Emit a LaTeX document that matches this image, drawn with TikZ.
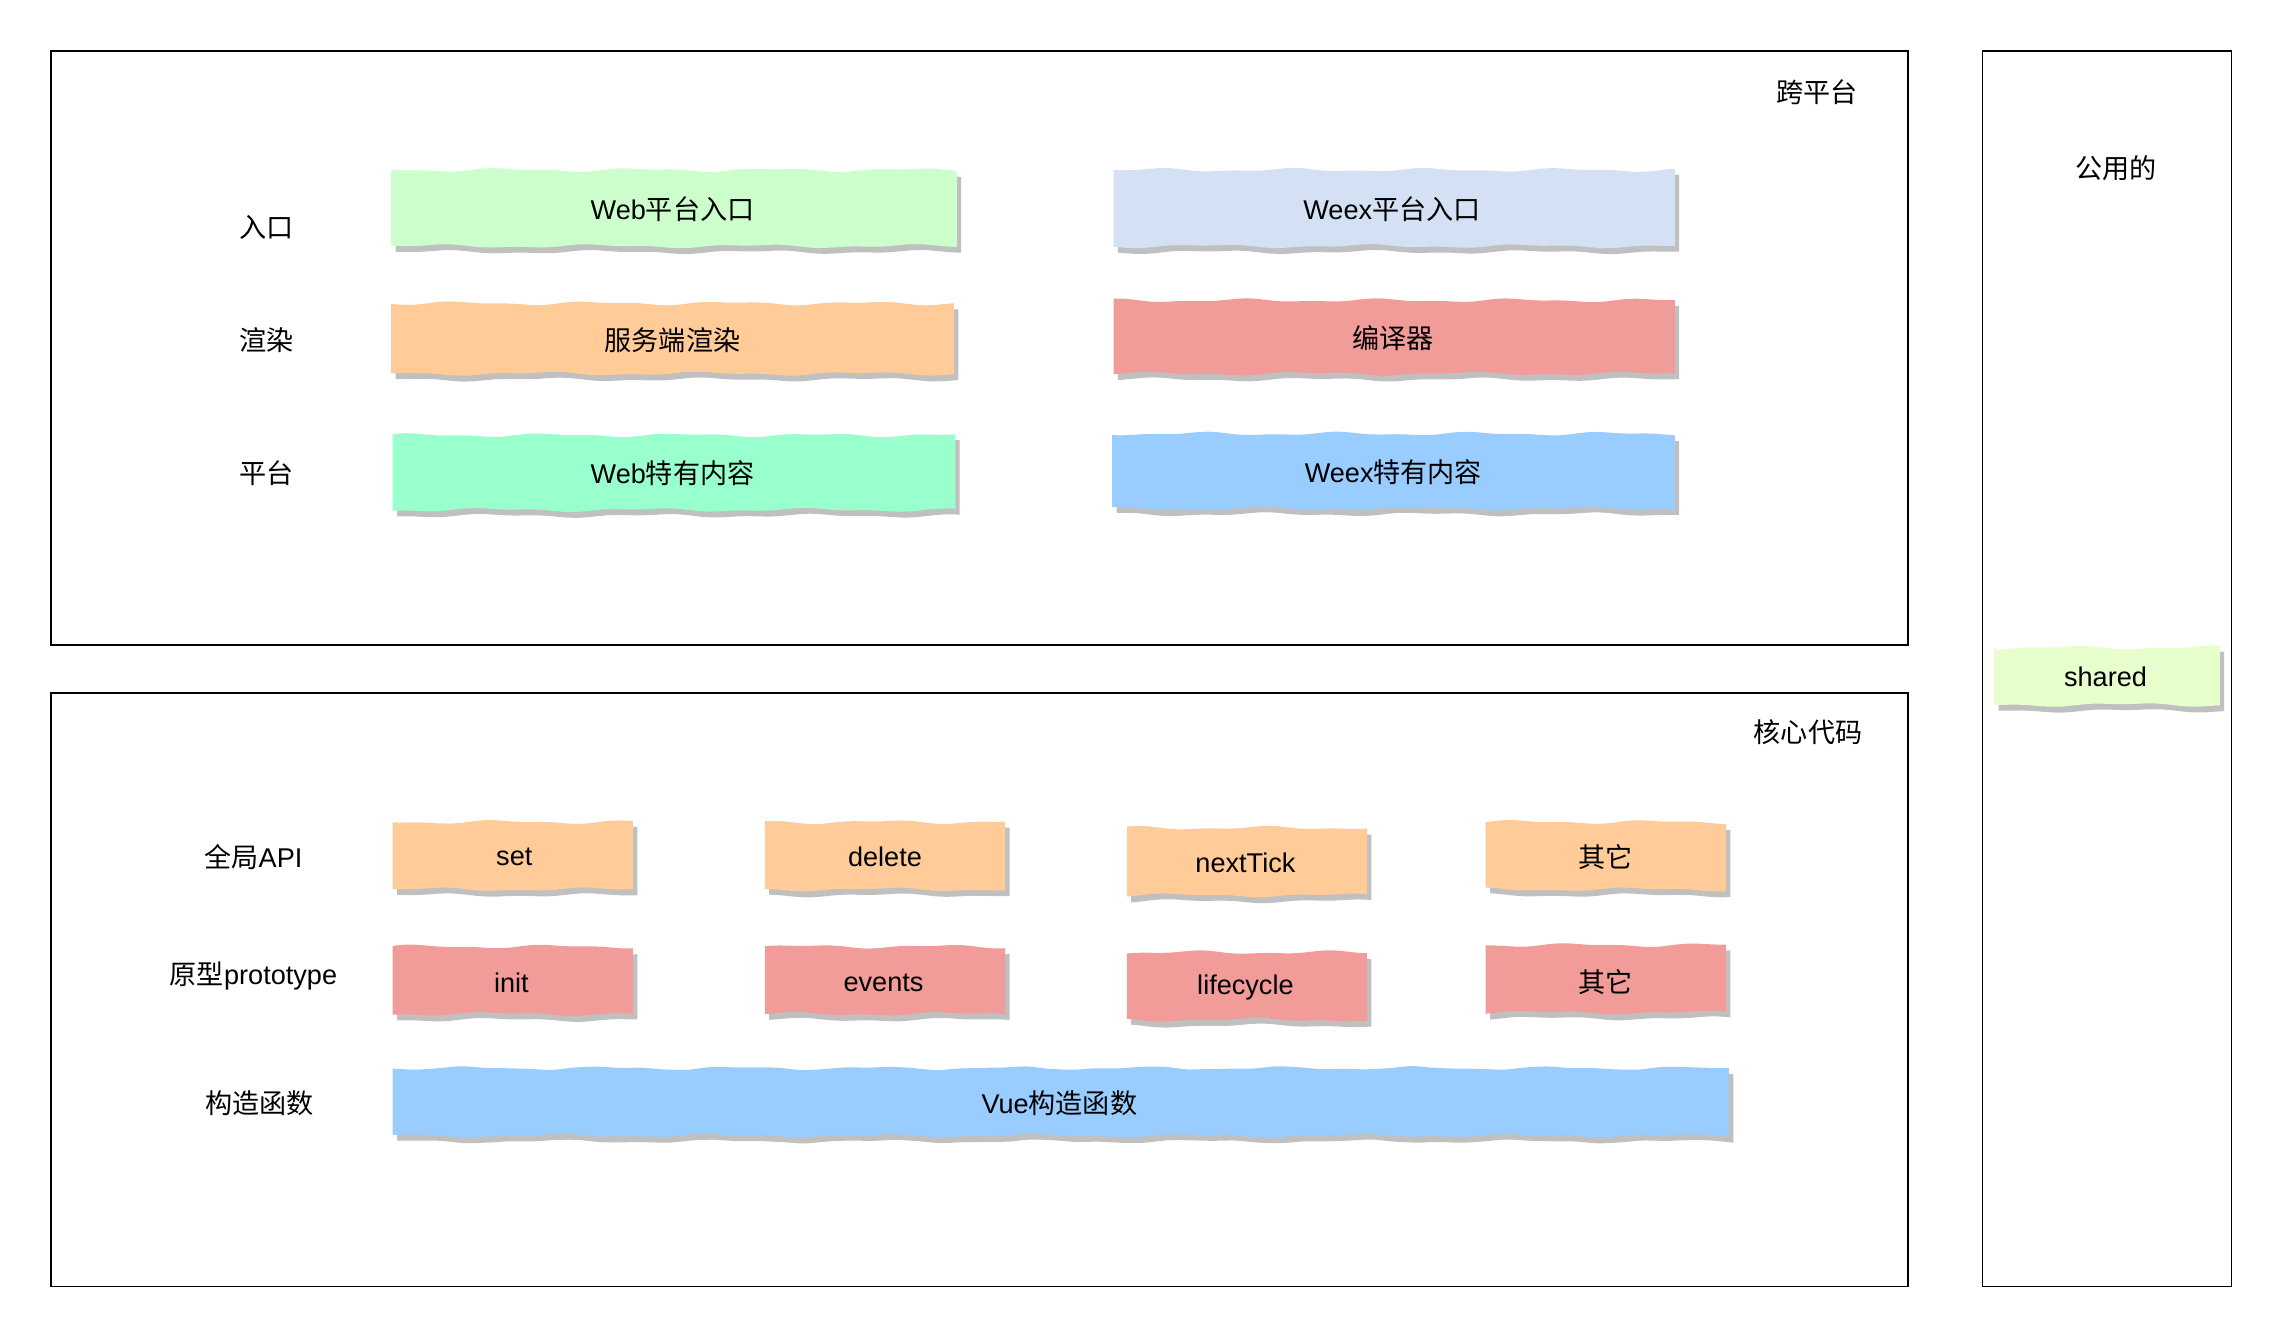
\documentclass[tikz,border=0pt]{standalone}
\usepackage{fontspec}
\setmainfont{Liberation Sans}
\newfontfamily\cjk{Noto Sans CJK SC}
\definecolor{cGreen}{HTML}{CCFFCC}
\definecolor{cLBlue}{HTML}{D4E1F5}
\definecolor{cOrange}{HTML}{FFCC99}
\definecolor{cRed}{HTML}{F19C99}
\definecolor{cMint}{HTML}{99FFCC}
\definecolor{cBlue}{HTML}{99CCFF}
\definecolor{cLime}{HTML}{E6FFCC}
\definecolor{cShadow}{HTML}{C0C0C0}
\newcommand\fs{\fontsize{18.5}{22}\selectfont}
\tikzset{
  frame/.style={draw=black, line width=1.1pt},
  lbl/.style={font=\fs, text=black, inner sep=0pt},
}
% wavy sticky-note outline: x1 y1 x2 y2 phase
\newcommand\wavepath[5]{(#1,#2) -- plot[smooth,domain=#1:#3,samples=60,variable=\t] (\t,{#2+0.9*sin(3.9*\t+#5)+0.5*sin(8.3*\t+2*#5)}) -- (#3,#4) -- plot[smooth,domain=#3:#1,samples=60,variable=\t] (\t,{#4+0.9*sin(3.3*\t+#5)+0.5*sin(7.9*\t+#5)}) -- cycle}
% name x1 y1 x2 y2 colour phase
\newcommand\sticky[7]{%
  \begin{scope}[shift={(3,4)}]\fill[cShadow] \wavepath{#2}{#3}{#4}{#5}{#7};\end{scope}
  \fill[#6] \wavepath{#2}{#3}{#4}{#5}{#7};
}
\begin{document}
\begin{tikzpicture}[x=1pt,y=-1pt]
\useasboundingbox (0,0) rectangle (1567,913);
% frames
\draw[frame] (35,35) rectangle (1302,440);
\draw[frame] (35,473) rectangle (1302,878);
\draw[frame] (1353,35) rectangle (1523,878);
\node[lbl] (tCross) at (1240,63) {\cjk 跨平台};
\node[lbl] (tCore) at (1234,500) {\cjk 核心代码};
\node[lbl] (tShared) at (1444,115) {\cjk 公用的};
% row labels top
\node[lbl] (rEntry) at (182,155) {\cjk 入口};
\node[lbl] (rRender) at (182,232) {\cjk 渲染};
\node[lbl] (rPlat) at (182,323) {\cjk 平台};
% row labels bottom
\node[lbl] (rApi) at (173,585) {{\cjk 全局}API};
\node[lbl] (rProto) at (173,666) {{\cjk 原型}prototype};
\node[lbl] (rCtor) at (177,753) {\cjk 构造函数};
% sticky notes top
\sticky{webEntry}{267}{116}{653}{168}{cGreen}{10}
\node[lbl] (webEntry) at (459,143) {Web{\cjk 平台入口}};
\sticky{weexEntry}{760}{116}{1143}{168}{cLBlue}{70}
\node[lbl] (weexEntry) at (950,143) {Weex{\cjk 平台入口}};
\sticky{ssr}{267}{207}{651}{255}{cOrange}{130}
\node[lbl] (ssr) at (459,232) {\cjk 服务端渲染};
\sticky{compiler}{760}{205}{1143}{255}{cRed}{200}
\node[lbl] (compiler) at (951,231) {\cjk 编译器};
\sticky{webOwn}{268}{297}{652}{348}{cMint}{250}
\node[lbl] (webOwn) at (459,323) {Web{\cjk 特有内容}};
\sticky{weexOwn}{759}{296}{1143}{347}{cBlue}{310}
\node[lbl] (weexOwn) at (951,322) {Weex{\cjk 特有内容}};
% sticky notes bottom
\sticky{set}{268}{561}{432}{607}{cOrange}{20}
\node[lbl] (set) at (351,585) {set};
\sticky{del}{522}{561}{686}{607}{cOrange}{80}
\node[lbl] (del) at (604,585) {delete};
\sticky{tick}{769}{565}{933}{611}{cOrange}{140}
\node[lbl] (tick) at (850,589) {nextTick};
\sticky{otherA}{1014}{561}{1178}{607}{cOrange}{190}
\node[lbl] (otherA) at (1096,585) {\cjk 其它};
\sticky{init}{268}{646}{432}{692}{cRed}{240}
\node[lbl] (init) at (349,671) {init};
\sticky{events}{522}{646}{686}{692}{cRed}{290}
\node[lbl] (events) at (603,671) {events};
\sticky{life}{769}{650}{933}{696}{cRed}{330}
\node[lbl] (life) at (850,674) {lifecycle};
\sticky{otherB}{1014}{645}{1178}{691}{cRed}{40}
\node[lbl] (otherB) at (1096,670) {\cjk 其它};
\sticky{vue}{268}{729}{1180}{775}{cBlue}{100}
\node[lbl] (vue) at (723,753) {Vue{\cjk 构造函数}};
% shared
\sticky{shared}{1361}{442}{1515}{481}{cLime}{160}
\node[lbl] (shared) at (1437,462) {shared};
\end{tikzpicture}
\end{document}
